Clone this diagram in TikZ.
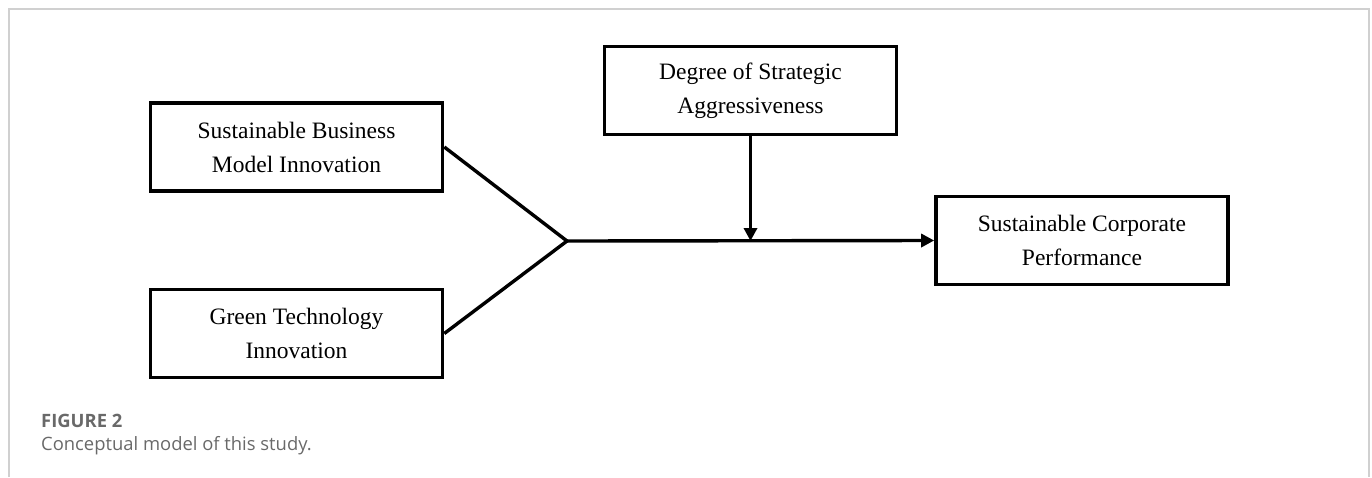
\documentclass[tikz,border=0pt]{standalone}
\usepackage{fontspec}
\setmainfont{Liberation Serif}
\newfontfamily\capfont{Open Sans}
\usetikzlibrary{arrows.meta}
\definecolor{framegray}{RGB}{208,208,208}
\definecolor{capgray}{RGB}{105,105,105}
\begin{document}
\begin{tikzpicture}[x=1pt,y=-1pt,
        varbox/.style={draw,rectangle,line width=3.6pt,minimum width=292pt,minimum height=88pt,
            align=center,font=\fontsize{23.5}{34}\selectfont},
        link/.style={line width=3.4pt},
        arrowlink/.style={line width=3.4pt,-{Triangle[length=13pt,width=13pt]}}]
        \useasboundingbox (0,0) rectangle (1372,477);
        %draw frame
        \draw[framegray, line width=1.5pt] (9,477) -- (9,9) -- (1369,9) -- (1369,477);

        %place variables
        \node[varbox] (sbmi) at (296.5,147) {Sustainable Business\\Model Innovation};
        \node[varbox] (gti) at (296.5,333.5) {Green Technology\\Innovation};
        \node[varbox] (dsa) at (750.5,90.5) {Degree of Strategic\\Aggressiveness};
        \node[varbox] (scp) at (1082,240.5) {Sustainable Corporate\\Performance};

        %draw paths
        \coordinate (join) at (567,241);
        \coordinate (mod) at (dsa.south |- join);
        \draw[link, line join=miter] (sbmi.east) -- (join) -- (gti.east);
        \draw[arrowlink] (join) -- (scp.west);
        \draw[arrowlink] (dsa.south) -- (mod);

        %caption
        \node[anchor=base west, inner sep=0pt, text=capgray, font=\capfont\bfseries\fontsize{18.4}{22}\selectfont] (fig) at (41,427) {FIGURE 2};
        \node[anchor=base west, inner sep=0pt, text=capgray, font=\capfont\fontsize{18.4}{22}\selectfont] (cap) at (41,450) {Conceptual model of this study.};
\end{tikzpicture}
\end{document}
